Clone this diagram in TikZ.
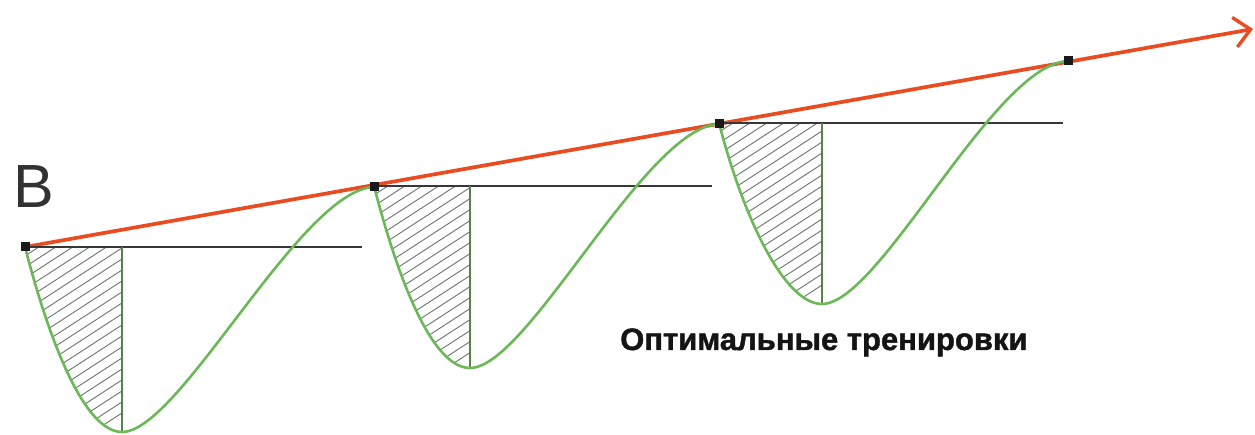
\documentclass[tikz,border=0pt]{standalone}
\usepackage{fontspec}
\setmainfont{Liberation Sans}
\newfontfamily\heavyfont[FakeBold=1.3]{Liberation Sans Bold}
\usetikzlibrary{arrows.meta,calc}
\definecolor{redl}{RGB}{234,76,34}
\definecolor{greenl}{RGB}{108,184,88}
\definecolor{grayl}{RGB}{55,55,55}
\definecolor{hatchc}{RGB}{105,118,105}
\definecolor{textc}{RGB}{50,50,50}
\pgfdeclarelayer{bg}
\pgfdeclarelayer{mid}
\pgfsetlayers{bg,mid,main}
\tikzset{
  curve/.style={draw=greenl, line width=2.6pt},
  hline/.style={draw=grayl, line width=1.4pt},
  vline/.style={draw=greenl!60!grayl, line width=1.2pt},
  hatchline/.style={draw=hatchc, line width=0.9pt},
  sq/.style={fill=black!90, minimum size=9pt, inner sep=0pt, draw=none},
  trend/.style={draw=redl, line width=3.7pt, -{Straight Barb[length=16pt,width=30pt,line width=3.4pt]}},
}
\newcommand\dipcurve[7]{%
  \begin{scope}
    \clip (#1,#2) .. controls +(25,97) and +(-37,0) .. (#3,#4) -- (#3,#2) -- cycle;
    \foreach \k in {0,...,22} \draw[hatchline] ($(#1,#2)+(-20,\k*11)$) -- ++(200,-130);
  \end{scope}
  \draw[hline] (#1,#2) -- (#7,#2);
  \draw[vline] (#3,#4) -- (#3,#2);
  \draw[curve] (#1,#2) .. controls +(25,97) and +(-37,0) .. (#3,#4) .. controls +(58,0) and +(-74,3) .. (#5,#6);
}
\begin{document}
\begin{tikzpicture}[x=1pt,y=-1pt]
\useasboundingbox (0,0) rectangle (1255,435);
\begin{pgfonlayer}{bg}
\fill[white] (0,0) rectangle (1255,435);
\end{pgfonlayer}
\dipcurve{25}{247}{122}{432}{374}{187}{362}
\dipcurve{374}{186}{470}{368}{719}{124}{712}
\dipcurve{719}{123}{822}{304}{1068}{61}{1063}
\node[sq] (p1) at (25,247) {};
\node[sq] (p2) at (374,187) {};
\node[sq] (p3) at (719,124) {};
\node[sq] (p4) at (1068,61) {};
\coordinate (tip) at (1253,29);
\begin{pgfonlayer}{mid}
\draw[trend] (p1.center) -- (tip);
\end{pgfonlayer}
\node[anchor=base west, inner sep=0pt, text=textc, font=\fontsize{61}{61}\selectfont] (B) at (13,208) {B};
\node[anchor=base west, inner sep=0pt, text=black!92, font=\heavyfont\fontsize{31}{31}\selectfont] (opt) at (620,350) {Оптимальные тренировки};
\end{tikzpicture}
\end{document}
